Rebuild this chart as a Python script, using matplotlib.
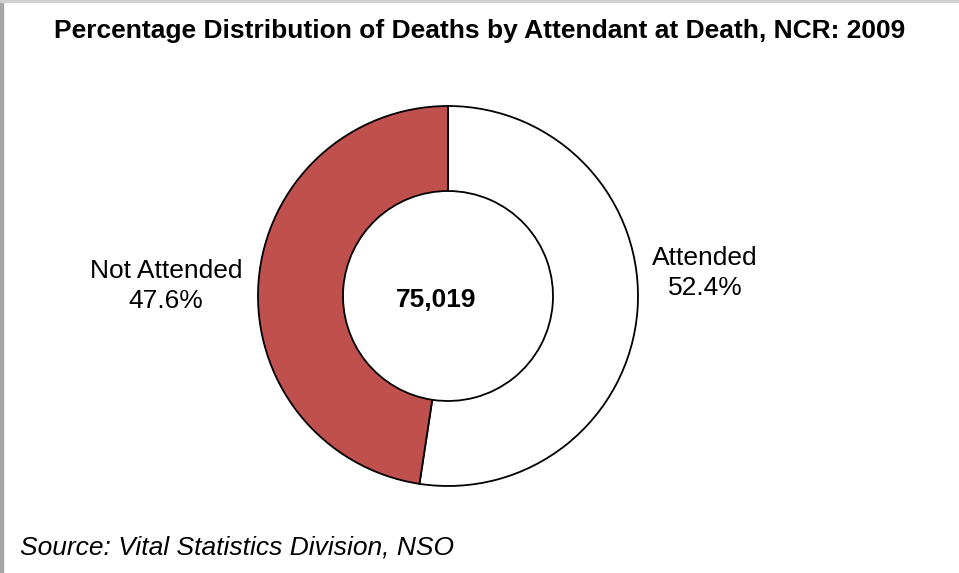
import matplotlib.pyplot as plt
from matplotlib.patches import Rectangle

plt.rcParams['font.family'] = ['Liberation Sans', 'DejaVu Sans']

categories = ["Attended", "Not Attended"]
shares = [52.4, 47.6]
colors = ["#FFFFFF", "#C0504D"]
total_deaths = "75,019"

W, H = 959, 573
fig = plt.figure(figsize=(W / 100, H / 100), dpi=100)

# square axes centred on the donut, 400 px across
cx, cy, half = 448, 296, 200
ax = fig.add_axes([(cx - half) / W, (H - cy - half) / H, 2 * half / W, 2 * half / H])
ax.pie(shares, colors=colors, startangle=90, counterclock=False, radius=1.0,
       wedgeprops=dict(width=1 - 105 / 190, edgecolor="black", linewidth=1.3))
lim = half / 190
ax.set_xlim(-lim, lim)
ax.set_ylim(-lim, lim)
ax.set_aspect("equal")
ax.axis("off")

fig.text(436 / W, 1 - 300 / H, total_deaths, ha="center", va="center",
         fontsize=19, fontweight="bold")

# slice labels
fig.text(705 / W, 1 - 273 / H, f"{categories[0]}\n{shares[0]}%", ha="center", va="center",
         fontsize=19, linespacing=1.3)
fig.text(166 / W, 1 - 286 / H, f"{categories[1]}\n{shares[1]}%", ha="center", va="center",
         fontsize=19, linespacing=1.3)

fig.text(480 / W, 1 - 31 / H, "Percentage Distribution of Deaths by Attendant at Death, NCR: 2009",
         ha="center", va="center", fontsize=19, fontweight="bold")
fig.text(20 / W, 1 - 547 / H, "Source: Vital Statistics Division, NSO", ha="left", va="center",
         fontsize=19, style="italic")

# thin gray frame on the left and top edges
fig.patches.append(Rectangle((0, 0), 2.5 / W, 1, transform=fig.transFigure, color="#A6A6A6"))
fig.patches.append(Rectangle((0, 1 - 2 / H), 1, 2 / H, transform=fig.transFigure, color="#D0D0D0"))

fig.savefig("out.png", dpi=100)
